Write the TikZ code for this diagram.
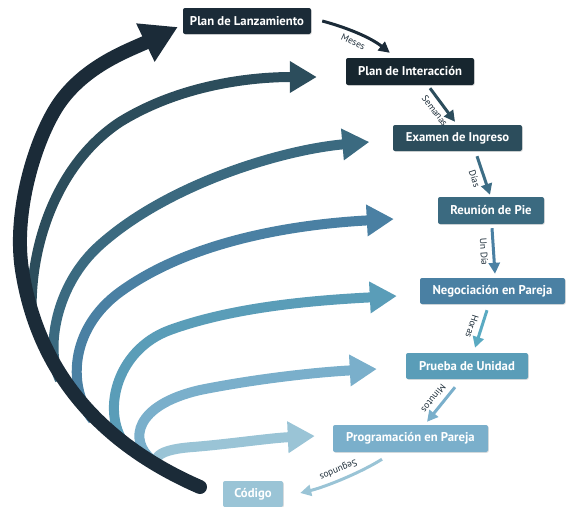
\documentclass[tikz,border=0pt]{standalone}
\usepackage{fontspec}
\setmainfont{PT Sans}
\usetikzlibrary{arrows.meta,calc,shadows}
\definecolor{cA}{HTML}{1B2B38}
\definecolor{cAi}{HTML}{17262F}
\definecolor{cB}{HTML}{2C4D5C}
\definecolor{cC}{HTML}{3B6A80}
\definecolor{cD}{HTML}{4A80A3}
\definecolor{cE}{HTML}{5A9DB8}
\definecolor{cF}{HTML}{7AAFCB}
\definecolor{cG}{HTML}{9AC4D6}
\definecolor{cH}{HTML}{5AAAC2}
\definecolor{lbl}{HTML}{1E2E3A}
\tikzset{
  stagebox/.style={rounded corners=2pt, inner sep=0pt, text=white,
    font=\bfseries\fontsize{12.7}{14}\selectfont,
    drop shadow={shadow xshift=0.8pt,shadow yshift=-0.8pt,opacity=0.25}},
  bigarc/.style={line width=10pt, -{Triangle[length=27pt,width=30pt]}},
  smallarr/.style={line width=3pt, -{Triangle[length=11pt,width=11pt]}},
  timelbl/.style={midway, sloped, allow upside down, below=4.5pt, inner sep=0pt,
    text=lbl, font=\fontsize{9.5}{11}\selectfont}
}
\begin{document}
\begin{tikzpicture}[x=1pt,y=-1pt]
\useasboundingbox (0,0) rectangle (567,506);

% stage boxes
\node[stagebox, fill=cA, minimum width=128pt, minimum height=26pt] (lanz) at (247,21) {Plan de Lanzamiento};
\node[stagebox, fill=cAi, minimum width=128pt, minimum height=27pt] (inter) at (410,71.5) {Plan de Interacción};
\node[stagebox, fill=cB, minimum width=129pt, minimum height=26pt] (exam) at (457.5,138) {Examen de Ingreso};
\node[stagebox, fill=cC, minimum width=106pt, minimum height=27pt] (reun) at (491,210.5) {Reunión de Pie};
\node[stagebox, fill=cD, minimum width=145pt, minimum height=26pt] (nego) at (492.5,291) {Negociación en Pareja};
\node[stagebox, fill=cE, minimum width=122pt, minimum height=26pt] (prue) at (467,366) {Prueba de Unidad};
\node[stagebox, fill=cF, minimum width=155pt, minimum height=27pt] (prog) at (410.5,438.5) {Programación en Pareja};
\node[stagebox, fill=cG, minimum width=60pt, minimum height=26pt] (cod) at (253,494) {Código};

% small time connectors
\draw[smallarr, color=cA] ($(lanz.east)+(11,0)$) .. controls (345,27) and (370,37) .. ($(inter.north west)+(44,-5)$)
  node[timelbl] {Meses};
\draw[smallarr, color=cB] ($(inter.south)+(20,3)$) -- ($(exam.north)+(-2.5,-3)$)
  node[timelbl] {Semanas};
\draw[smallarr, color=cC!85!cD] ($(exam.south)+(19.5,5)$) -- ($(reun.north)+(-1,-2)$)
  node[timelbl] {Días};
\draw[smallarr, color=cD] ($(reun.south)+(1,4)$) -- ($(nego.north)+(2.5,-4)$)
  node[timelbl] {Un Día};
\draw[smallarr, color=cH] ($(nego.south)+(-5.5,6)$) -- ($(prue.north)+(8,-5)$)
  node[timelbl] {Horas};
\draw[smallarr, color=cF] ($(prue.south)+(-12,8)$) -- ($(prog.north)+(16.5,-3)$)
  node[timelbl] {Minutos};
\draw[smallarr, color=cG] ($(prog.south)+(-28.5,7)$) .. controls (360,473) and (325,487) .. ($(cod.east)+(17,-1)$)
  node[timelbl] {Segundos};

% end points of the big arcs
\coordinate (t2) at ($(inter.west)+(-29,5.5)$);
\coordinate (t3) at ($(exam.west)+(-23.5,4)$);
\coordinate (t4) at ($(reun.west)+(-44,8.5)$);
\coordinate (t5) at ($(nego.west)+(-23,5)$);
\coordinate (t6) at ($(prue.west)+(-29,3)$);
\coordinate (t7) at ($(prog.west)+(-18,-2.5)$);
\coordinate (t1) at ($(lanz.west)+(-5,6)$);

% big arcs (light ones first, dark on top)
\draw[bigarc, color=cG] (172,472) .. controls (148,463) and (150,450) .. (193,447)
  .. controls (230,444) and (270,438) .. (t7);
\draw[bigarc, color=cF] (152,460) .. controls (128,440) and (135,405) .. (200,390)
  .. controls (260,378) and (320,372) .. (t6);
\draw[bigarc, color=cE] (127,447) .. controls (100,415) and (115,350) .. (170,330)
  .. controls (236,306) and (320,300) .. (t5);
\draw[bigarc, color=cD] (93,420) .. controls (68,390) and (68,330) .. (120,292)
  .. controls (193,239) and (300,224) .. (t4);
\draw[bigarc, color=cC] (60,380) .. controls (45,350) and (55,285) .. (100,245)
  .. controls (167,185) and (280,150) .. (t3);
\draw[bigarc, color=cB] (32,320) .. controls (28,250) and (55,165) .. (120,122)
  .. controls (180,85) and (250,77) .. (t2);
\draw[color=cA, line width=14pt, line cap=round, -{Triangle[length=36pt,width=40pt]}]
  (200,487) .. controls (115,450) and (40,385) .. (22,270)
  .. controls (13,212) and (35,140) .. (58,105)
  .. controls (85,65) and (130,50) .. (t1);
\end{tikzpicture}
\end{document}
